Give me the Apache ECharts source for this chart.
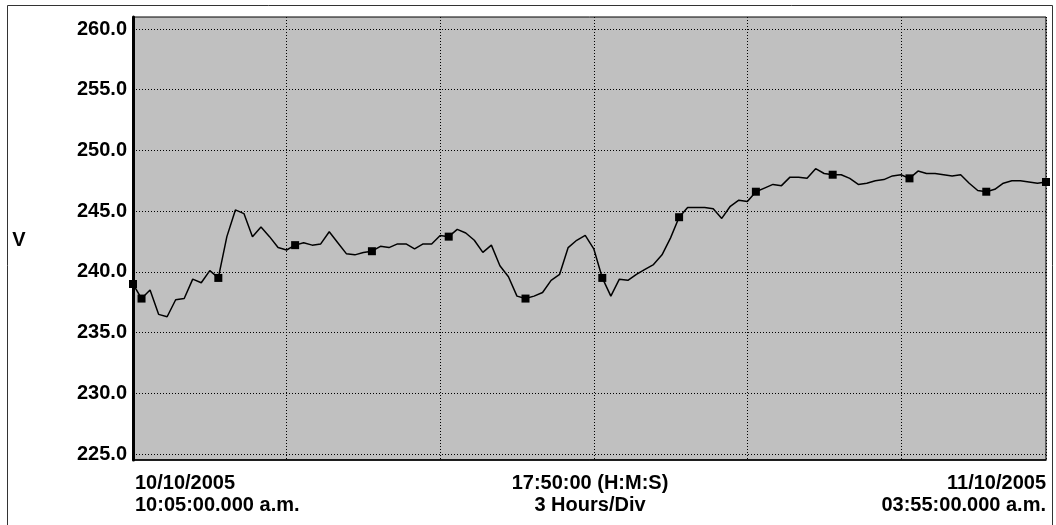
<!DOCTYPE html>
<html>
<head>
<meta charset="utf-8">
<script src="https://cdn.jsdelivr.net/npm/echarts@6/dist/echarts.min.js"></script>
<style>
    html, body { margin: 0; padding: 0; background: #fff; }
    #chart { width: 1056px; height: 525px; }
</style>
</head>
<body>
<div id="chart"></div>
<script>
// voltage readings, one every 10 minutes from 10:05 a.m.
const volts = [
    239.0, 237.8, 238.5, 236.5, 236.3, 237.7, 237.8, 239.4, 239.1, 240.1,
    239.5, 242.9, 245.1, 244.8, 242.9, 243.7, 242.9, 242.0, 241.8, 242.2,
    242.4, 242.2, 242.3, 243.3, 242.4, 241.5, 241.4, 241.6, 241.7, 242.1,
    242.0, 242.3, 242.3, 241.9, 242.3, 242.3, 243.0, 242.9, 243.5, 243.2,
    242.6, 241.6, 242.2, 240.5, 239.6, 238.0, 237.8, 238.0, 238.3, 239.3,
    239.8, 242.0, 242.6, 243.0, 241.9, 239.5, 238.0, 239.4, 239.3, 239.8,
    240.2, 240.6, 241.4, 242.8, 244.5, 245.3, 245.3, 245.3, 245.2, 244.4,
    245.4, 245.9, 245.8, 246.6, 246.9, 247.2, 247.1, 247.8, 247.8, 247.7,
    248.5, 248.1, 248.0, 248.0, 247.7, 247.2, 247.3, 247.5, 247.6, 247.9,
    248.0, 247.7, 248.3, 248.1, 248.1, 248.0, 247.9, 248.0, 247.3, 246.7,
    246.6, 246.8, 247.3, 247.5, 247.5, 247.4, 247.3, 247.4
];
// samples that carry a square marker
const markerIdx = [0, 1, 10, 19, 28, 37, 46, 55, 64, 73, 82, 91, 100, 107];
const yTicks = [225, 230, 235, 240, 245, 250, 255, 260];
const startLabel = ['10/10/2005', '10:05:00.000 a.m.'];
const midLabel = ['17:50:00 (H:M:S)', '3 Hours/Div'];
const endLabel = ['11/10/2005', '03:55:00.000 a.m.'];

const minutes = volts.map((v, i) => i * 10);
const totalMin = minutes[minutes.length - 1];

const font = '"Liberation Sans", Arial, sans-serif';
const chart = echarts.init(document.getElementById('chart'));

const plot = { left: 133, right: 10, top: 17, bottom: 65 };
const dotted = { color: '#000', width: 1, type: [1, 2] };

// two-line label under the plot, one text per line
const footText = (x, lines, align) => lines.map((t, k) => ({
    type: 'text', x: x, y: 483 + k * 22,
    style: { text: t, font: 'bold 20px ' + font, fill: '#000', align: align, verticalAlign: 'middle' }
}));

const options = {
    animation: false,
    backgroundColor: '#fff',
    grid: [
        // frame + background
        { left: plot.left, right: plot.right, top: plot.top, bottom: plot.bottom,
          show: true, backgroundColor: '#c0c0c0', borderColor: '#000', borderWidth: 1 },
        // data area: 225..260
        { left: plot.left, right: plot.right, top: 29, bottom: 71 }
    ],
    xAxis: [
        {
            gridIndex: 0, type: 'value', min: 0, max: totalMin, interval: 180,
            axisLine: { show: true, lineStyle: { color: '#000', width: 1.5 } },
            axisTick: { show: false },
            axisLabel: { show: false },
            splitLine: { show: true, lineStyle: dotted }
        },
        {
            gridIndex: 1, type: 'value', min: 0, max: totalMin, show: false
        }
    ],
    yAxis: [
        {
            gridIndex: 0, type: 'value', min: 0, max: 1,
            axisLine: { show: true, lineStyle: { color: '#000', width: 3 } },
            axisTick: { show: false },
            axisLabel: { show: false },
            splitLine: { show: false }
        },
        {
            gridIndex: 1, type: 'value', min: yTicks[0], max: yTicks[yTicks.length - 1], interval: 5,
            axisLine: { show: false },
            axisTick: { show: false },
            axisLabel: {
                margin: 6, color: '#000', fontSize: 20, fontWeight: 'bold', fontFamily: font,
                formatter: v => v.toFixed(1)
            },
            splitLine: { show: true, lineStyle: dotted }
        }
    ],
    series: [
        {
            type: 'line',
            xAxisIndex: 1,
            yAxisIndex: 1,
            data: minutes.map((m, i) => {
                const item = { value: [m, volts[i]] };
                if (markerIdx.includes(i)) {
                    item.symbol = 'rect';
                    item.symbolSize = 8;
                } else {
                    item.symbol = 'none';
                }
                return item;
            }),
            showAllSymbol: true,
            lineStyle: { color: '#000', width: 1.5 },
            itemStyle: { color: '#000' },
            z: 5
        }
    ],
    graphic: [
        {
            type: 'rect', silent: true,
            shape: { x: 7.5, y: 5.5, width: 1045, height: 530 },
            style: { fill: null, stroke: '#333', lineWidth: 1 }
        },
        {
            type: 'text', x: 19, y: 240,
            style: { text: 'V', font: 'bold 20px ' + font, fill: '#000', align: 'center', verticalAlign: 'middle' }
        },
        ...footText(135, startLabel, 'left'),
        ...footText(590, midLabel, 'center'),
        ...footText(1046, endLabel, 'right')
    ]
};

chart.setOption(options);
</script>
</body>
</html>
